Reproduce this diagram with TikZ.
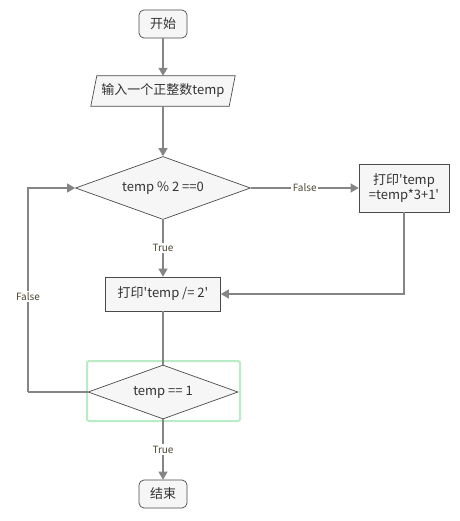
\documentclass[tikz,border=0pt]{standalone}
\usepackage{fontspec}
\setmainfont[Ligatures=TeXOff]{Noto Sans CJK SC}
\usetikzlibrary{shapes.geometric, arrows.meta}
\definecolor{edge}{HTML}{858585}
\definecolor{nodeline}{HTML}{4A4A4A}
\definecolor{nodefill}{HTML}{F6F6F6}
\definecolor{txt}{HTML}{333333}
\definecolor{lbltxt}{HTML}{4A4630}
\definecolor{sel}{HTML}{B9EBC6}
\begin{document}
\begin{tikzpicture}[x=1pt,y=-1pt,
  base/.style={draw=nodeline, fill=nodefill, text=txt, line width=0.7pt, font=\fontsize{13}{16}\selectfont, inner sep=2pt},
  term/.style={base, rounded corners=5pt, minimum width=48pt, minimum height=28pt},
  proc/.style={base, rectangle},
  dec/.style={base, diamond, inner sep=0pt},
  arr/.style={draw=edge, line width=1.3pt, -{Triangle[width=9pt,length=8pt]}},
  plain/.style={draw=edge, line width=1.3pt},
  lbl/.style={fill=white, text=lbltxt, font=\fontsize{10}{12}\selectfont, inner sep=1.5pt}]
\useasboundingbox (0,0) rectangle (459,521);

\node[term] (start) at (163,24) {开始};
\node[text=txt, font=\fontsize{13}{16}\selectfont, minimum width=144pt, minimum height=30pt, inner sep=0pt] (in) at (163,91) {输入一个正整数temp};
\draw[draw=nodeline, fill=nodefill, line width=0.7pt]
  ([xshift=6pt]in.north west) -- (in.north east) -- ([xshift=-6pt]in.south east) -- (in.south west) -- cycle;
\node[text=txt, font=\fontsize{13}{16}\selectfont] at (in) {输入一个正整数temp};

\node[dec, aspect=2.78, minimum width=175pt, minimum height=63pt] (d1) at (163,188) {temp \% 2 ==0};
\node[proc, minimum width=90pt, minimum height=48pt, align=center, font=\fontsize{13}{15}\selectfont] (p1) at (404,188) {打印'temp\\=temp*3+1'};
\node[proc, minimum width=115pt, minimum height=34pt] (p2) at (163,294) {打印'temp /= 2'};

\draw[draw=sel, line width=2pt, rounded corners=2pt] (87,361) rectangle (240,421);
\node[dec, aspect=2.78, minimum width=150pt, minimum height=54pt] (d2) at (163,392) {temp == 1};
\node[term] (end) at (163,494) {结束};

\coordinate (lp) at (28,392);

\draw[arr] (start) -- (in);
\draw[arr] (in) -- (d1);
\draw[arr] (d1.east) -- node[lbl]{False} (p1.west);
\draw[arr] (d1.south) -- node[lbl]{True} (p2.north);
\draw[arr] (p1.south) |- (p2.east);
\draw[plain] (p2.south) -- (d2.north);
\draw[plain] (d2.west) -- (lp);
\draw[arr] (lp) |- node[lbl, pos=0.235]{False} (d1.west);
\draw[arr] (d2.south) -- node[lbl]{True} (end.north);
\end{tikzpicture}
\end{document}
